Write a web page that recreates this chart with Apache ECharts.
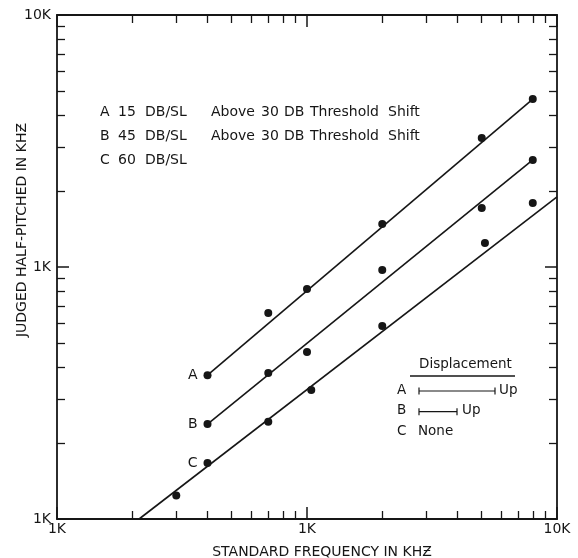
<!DOCTYPE html>
<html><head><meta charset="utf-8">
<script src="https://cdn.jsdelivr.net/npm/echarts@6/dist/echarts.min.js"></script>
<style>html,body{margin:0;padding:0;background:#fff}#c{width:578px;height:558px}</style>
</head><body><div id="c"></div>
<script>
// ---- data ----
const freqA = [400, 700, 1000, 2000, 5000, 8000];
const pitchA = [372, 657, 818, 1481, 3250, 4640];
const freqB = [400, 700, 1000, 2000, 5000, 8000];
const pitchB = [238, 380, 460, 973, 1715, 2660];
const freqC = [300, 400, 700, 1040, 2000, 5150, 8000];
const pitchC = [124, 167, 243, 325, 583, 1245, 1795];
const fitFreqA = [400, 8000];
const fitPitchA = [372, 4640];
const fitFreqB = [400, 8000];
const fitPitchB = [238, 2660];
const fitFreqC = [213, 10000];
const fitPitchC = [100, 1896];
const seriesNames = ['A', 'B', 'C'];
const seriesLabelIndex = [0, 0, 1];
const xTickLabels = ['1K', '1K', '10K'];
const yTickLabels = ['1K', '1K', '10K'];
const minorTicks = [200, 300, 400, 500, 600, 700, 800, 900, 2000, 3000, 4000, 5000, 6000, 7000, 8000, 9000];
const legendRows = [
  ['A', '15', 'DB/SL', 'Above', '30', 'DB', 'Threshold', 'Shift'],
  ['B', '45', 'DB/SL', 'Above', '30', 'DB', 'Threshold', 'Shift'],
  ['C', '60', 'DB/SL']
];
const dispTitle = 'Displacement';
const dispRows = [['A', 'Up'], ['B', 'Up'], ['C', 'None']];
const xName = 'STANDARD FREQUENCY IN KHƵ';
const yName = 'JUDGED HALF-PITCHED IN KHƵ';

// ---- chart ----
const INK = '#161616';
const FONT = 'DejaVu Sans';
const chart = echarts.init(document.getElementById('c'), null, {renderer: 'canvas'});
const zip = (xs, ys) => xs.map((x, i) => [x, ys[i]]);
const minorLog = minorTicks.map(v => Math.log10(v));

function logAxis(pos, labels, extra) {
  return Object.assign({
    type: 'log', logBase: 10, min: 100, max: 10000, position: pos,
    axisLine: {show: true, onZero: false, lineStyle: {color: INK, width: 1.8}},
    axisTick: {show: true, inside: true, length: 12, lineStyle: {color: INK, width: 1.5}},
    splitLine: {show: false},
    axisLabel: labels ? {
      show: true, color: INK, fontFamily: FONT, fontSize: 14,
      formatter: (v, i) => labels[i] !== undefined ? labels[i] : ''
    } : {show: false}
  }, extra || {});
}
function helperAxis(pos) {
  return {
    type: 'value', min: 2, max: 4, position: pos,
    axisLine: {show: false},
    axisTick: {show: true, inside: true, length: 8, customValues: minorLog, lineStyle: {color: INK, width: 1.3}},
    axisLabel: {show: false},
    splitLine: {show: false}
  };
}

const scatterSeries = [[freqA, pitchA], [freqB, pitchB], [freqC, pitchC]].map((d, k) => ({
  type: 'scatter', name: seriesNames[k], xAxisIndex: 0, yAxisIndex: 0,
  data: zip(d[0], d[1]), symbol: 'circle', symbolSize: 8, z: 5,
  itemStyle: {color: INK, opacity: 1},
  label: {
    show: true, position: 'left', distance: 6, color: INK, fontFamily: FONT, fontSize: 14,
    formatter: p => p.dataIndex === seriesLabelIndex[k] ? p.seriesName : ''
  }
}));
const lineSeries = [[fitFreqA, fitPitchA], [fitFreqB, fitPitchB], [fitFreqC, fitPitchC]].map((d, k) => ({
  type: 'line', name: seriesNames[k] + ' fit', xAxisIndex: 0, yAxisIndex: 0,
  data: zip(d[0], d[1]), symbol: 'none', z: 3,
  lineStyle: {color: INK, width: 1.6}
}));

const graphic = [];
const wordX = [100, 118, 145, 211, 261, 284, 310, 388];
legendRows.forEach((r, i) => {
  const y = 113 + i * 24.3;
  r.forEach((t, j) => {
    graphic.push({type: 'text', left: wordX[j], top: y - 8, style: {text: t, fill: INK, font: '14px ' + FONT}});
  });
});
// displacement key
graphic.push({type: 'text', left: 419, top: 357, style: {text: dispTitle, fill: INK, font: '13.5px ' + FONT}});
graphic.push({type: 'line', shape: {x1: 410, y1: 376, x2: 515, y2: 376}, style: {stroke: INK, lineWidth: 1.3}});
const barEnds = [495, 457, null];
const upX = [499, 462, 418];
dispRows.forEach((r, i) => {
  const y = 391 + i * 20.7;
  graphic.push({type: 'text', left: 397, top: y - 8, style: {text: r[0], fill: INK, font: '13.5px ' + FONT}});
  if (barEnds[i]) {
    graphic.push({type: 'line', shape: {x1: 419, y1: y, x2: barEnds[i], y2: y}, style: {stroke: INK, lineWidth: 1.2}});
    graphic.push({type: 'line', shape: {x1: 419, y1: y - 3.5, x2: 419, y2: y + 3.5}, style: {stroke: INK, lineWidth: 1.2}});
    graphic.push({type: 'line', shape: {x1: barEnds[i], y1: y - 3.5, x2: barEnds[i], y2: y + 3.5}, style: {stroke: INK, lineWidth: 1.2}});
  }
  graphic.push({type: 'text', left: upX[i], top: y - 8, style: {text: r[1], fill: INK, font: '13.5px ' + FONT}});
});

chart.setOption({
  backgroundColor: '#fff',
  animation: false,
  grid: {left: 57, right: 21, top: 15, bottom: 39, containLabel: false, outerBoundsMode: 'none'},
  xAxis: [
    logAxis('bottom', xTickLabels, {
      name: xName, nameLocation: 'middle', nameGap: 26, nameMoveOverlap: false,
      nameTextStyle: {color: INK, fontFamily: FONT, fontSize: 14, padding: [0, 0, 0, 30]},
      axisLabel: {show: true, color: INK, fontFamily: FONT, fontSize: 14, margin: 3,
        formatter: (v, i) => xTickLabels[i] !== undefined ? xTickLabels[i] : ''}
    }),
    helperAxis('bottom'),
    logAxis('top', null),
    helperAxis('top')
  ],
  yAxis: [
    logAxis('left', yTickLabels, {
      name: yName, nameLocation: 'middle', nameGap: 28, nameRotate: 90, nameMoveOverlap: false,
      nameTextStyle: {color: INK, fontFamily: FONT, fontSize: 14, padding: [0, 0, 0, 74]},
      axisLabel: {show: true, color: INK, fontFamily: FONT, fontSize: 14, margin: 6,
        formatter: (v, i) => yTickLabels[i] !== undefined ? yTickLabels[i] : ''}
    }),
    helperAxis('left'),
    logAxis('right', null),
    helperAxis('right')
  ],
  series: lineSeries.concat(scatterSeries),
  graphic: graphic
});
</script></body></html>
